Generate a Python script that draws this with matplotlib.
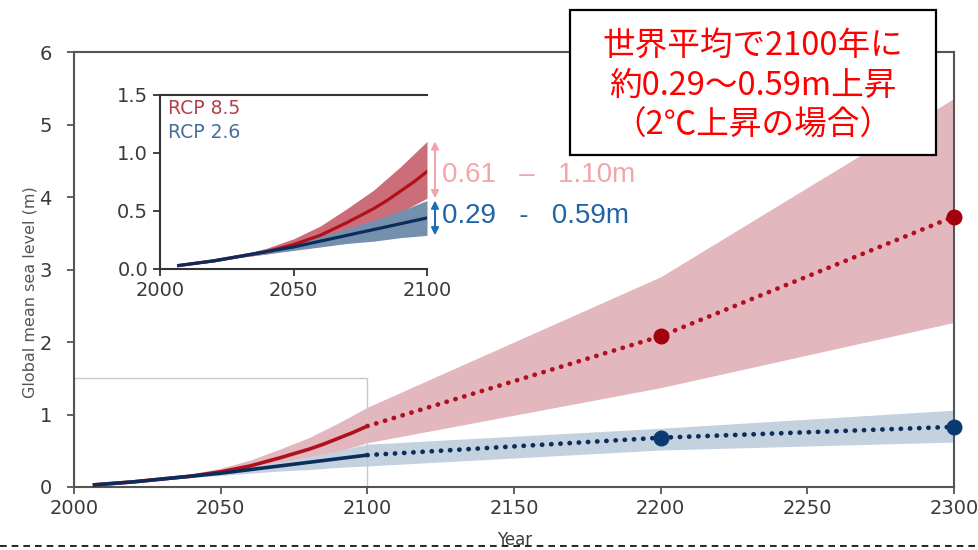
import numpy as np
import matplotlib
matplotlib.use('Agg')
import matplotlib.pyplot as plt
from matplotlib.patches import Rectangle, ConnectionPatch
from matplotlib.lines import Line2D

# ── Data ──────────────────────────────────────────────────────────────────────
years_hist = [2007, 2020, 2030, 2040, 2050, 2060, 2070, 2080, 2085, 2090, 2095, 2100]
rcp85_mean = [0.03, 0.07, 0.11, 0.15, 0.21, 0.29, 0.40, 0.52, 0.59, 0.67, 0.75, 0.84]
rcp85_hi   = [0.03, 0.08, 0.12, 0.18, 0.26, 0.37, 0.52, 0.68, 0.78, 0.88, 0.99, 1.10]
rcp85_lo   = [0.03, 0.06, 0.10, 0.13, 0.17, 0.23, 0.30, 0.39, 0.44, 0.49, 0.55, 0.61]
rcp26_mean = [0.03, 0.07, 0.11, 0.15, 0.19, 0.24, 0.29, 0.34, 0.365, 0.39, 0.415, 0.44]
rcp26_hi   = [0.03, 0.08, 0.12, 0.17, 0.22, 0.28, 0.35, 0.42, 0.46, 0.50, 0.545, 0.59]
rcp26_lo   = [0.03, 0.06, 0.10, 0.13, 0.16, 0.19, 0.22, 0.24, 0.255, 0.27, 0.28, 0.29]

years_long = [2100, 2200, 2300]
rcp85_long_mean = [0.84, 2.08, 3.73]
rcp85_long_hi   = [1.10, 2.90, 5.36]
rcp85_long_lo   = [0.61, 1.37, 2.27]
rcp26_long_mean = [0.44, 0.68, 0.83]
rcp26_long_hi   = [0.59, 0.81, 1.06]
rcp26_long_lo   = [0.29, 0.51, 0.62]

RED = '#b0101c'
NAVY = '#0c2d5c'
RED_BAND = '#e3b7be'
BLUE_BAND = '#c4d1de'
RED_BAND_IN = '#cb6e7a'
BLUE_BAND_IN = '#7590ad'
AX_COL = '#555555'
TXT_COL = '#3a3a3a'

W, H = 979, 550
fig = plt.figure(figsize=(W / 100, H / 100), dpi=100)

def fx(px):
    return px / W

def fy(py):
    return 1 - py / H

# ── Main axes ─────────────────────────────────────────────────────────────────
ax = fig.add_axes([fx(74), fy(487), fx(954 - 74), (487 - 52) / H])
ax.fill_between(years_hist, rcp85_lo, rcp85_hi, color=RED_BAND, lw=0, zorder=1)
ax.fill_between(years_long, rcp85_long_lo, rcp85_long_hi, color=RED_BAND, lw=0, zorder=1)
ax.fill_between(years_hist, rcp26_lo, rcp26_hi, color=BLUE_BAND, lw=0, zorder=1)
ax.fill_between(years_long, rcp26_long_lo, rcp26_long_hi, color=BLUE_BAND, lw=0, zorder=1)
ax.plot(years_hist, rcp85_mean, color=RED, lw=2.6, zorder=3)
ax.plot(years_hist, rcp26_mean, color=NAVY, lw=2.6, zorder=3)
dots = (0, (0.05, 1.9))
ax.plot(years_long, rcp85_long_mean, color=RED, lw=3.4, ls=dots,
        dash_capstyle='round', zorder=3)
ax.plot(years_long, rcp26_long_mean, color=NAVY, lw=3.4, ls=dots,
        dash_capstyle='round', zorder=3)
ax.plot(years_long[1:], rcp85_long_mean[1:], 'o', color='#a30010', ms=10.5,
        zorder=4, clip_on=False)
ax.plot(years_long[1:], rcp26_long_mean[1:], 'o', color='#0b3a73', ms=10.5,
        zorder=4, clip_on=False)

ax.set_xlim(2000, 2300)
ax.set_ylim(0, 6)
ax.set_xticks(range(2000, 2301, 50))
ax.set_yticks(range(0, 7))
for s in ax.spines.values():
    s.set_color(AX_COL)
    s.set_linewidth(1.5)
ax.tick_params(colors=AX_COL, labelcolor=TXT_COL, labelsize=14, length=5,
               width=1.3, pad=4)
ax.tick_params(axis='y', pad=11)

# zoom box on main chart
ax.add_patch(Rectangle((2000, 0), 100, 1.5, fill=False, ec='#c8c8c8', lw=1.0, zorder=2))

fig.text(fx(30), fy(292), 'Global mean sea level (m)', rotation=90, ha='center',
         va='center', fontsize=11.5, color='#555555')
fig.text(fx(515), fy(549), 'Year', ha='center', va='bottom', fontsize=12, color=TXT_COL)

# ── Inset ─────────────────────────────────────────────────────────────────────
ins = fig.add_axes([fx(160), fy(269), fx(427 - 160), (269 - 95) / H])
ins.fill_between(years_hist, rcp85_lo, rcp85_hi, color=RED_BAND_IN, lw=0)
ins.fill_between(years_hist, rcp26_lo, rcp26_hi, color=BLUE_BAND_IN, lw=0)
ins.plot(years_hist, rcp85_mean, color=RED, lw=2.3)
ins.plot(years_hist, rcp26_mean, color=NAVY, lw=2.3)
ins.set_xlim(2000, 2100)
ins.set_ylim(0, 1.5)
ins.set_xticks([2000, 2050, 2100])
ins.set_yticks([0.0, 0.5, 1.0, 1.5])
ins.set_yticklabels(['0.0', '0.5', '1.0', '1.5'])
ins.spines['right'].set_visible(False)
for s in ['left', 'bottom', 'top']:
    ins.spines[s].set_color('#333333')
    ins.spines[s].set_linewidth(1.5)
ins.tick_params(colors='#333333', labelcolor=TXT_COL, labelsize=14, length=5, width=1.3)
ins.text(2003, 1.38, 'RCP 8.5', color='#b5404d', fontsize=13.5, va='center')
ins.text(2003, 1.18, 'RCP 2.6', color='#46709a', fontsize=13.5, va='center')

# range arrows and labels
ins.annotate('', xy=(2103, rcp85_hi[-1]), xytext=(2103, rcp85_lo[-1]),
             arrowprops=dict(arrowstyle='<|-|>', color='#f4a3a8', lw=1.4,
                             mutation_scale=11, shrinkA=0, shrinkB=0),
             annotation_clip=False)
ins.annotate('', xy=(2103, rcp26_hi[-1]), xytext=(2103, rcp26_lo[-1]),
             arrowprops=dict(arrowstyle='<|-|>', color='#1c6cb8', lw=1.4,
                             mutation_scale=11, shrinkA=0, shrinkB=0),
             annotation_clip=False)
ins.text(2105.5, 0.81, '0.61   –   1.10m', color='#f2a5aa', fontsize=20,
         va='center', ha='left', family='Liberation Sans', clip_on=False)
ins.text(2105.5, 0.46, '0.29   -   0.59m', color='#1f63a8', fontsize=20,
         va='center', ha='left', family='Liberation Sans', clip_on=False)

# connector lines between zoom box and inset
for xy in [(2000, 1.5), (2100, 0)]:
    con = ConnectionPatch(xyA=xy, coordsA=ax.transData, xyB=xy, coordsB=ins.transData,
                          color='#c8c8c8', lw=1.0, zorder=0)
    fig.add_artist(con)

# ── Japanese callout box ──────────────────────────────────────────────────────
fig.add_artist(Rectangle((fx(570), fy(155)), fx(936 - 570), (155 - 10) / H,
                         transform=fig.transFigure, fc='white', ec='black', lw=1.6,
                         zorder=10))
jp = ['Noto Sans CJK JP', 'DejaVu Sans']
for py, line in [(46, '世界平均で2100年に'), (86, '約0.29〜0.59m上昇'), (126, '（2℃上昇の場合）')]:
    fig.text(fx(753), fy(py), line, ha='center', va='center', fontsize=23.5,
             color='#ff0000', family=jp, zorder=11)

# dashed separator at the bottom
fig.add_artist(Line2D([0, 1], [fy(546), fy(546)], transform=fig.transFigure,
                      color='black', lw=1.2, ls=(0, (4, 3)), zorder=12))

fig.savefig('out.png', dpi=100)
